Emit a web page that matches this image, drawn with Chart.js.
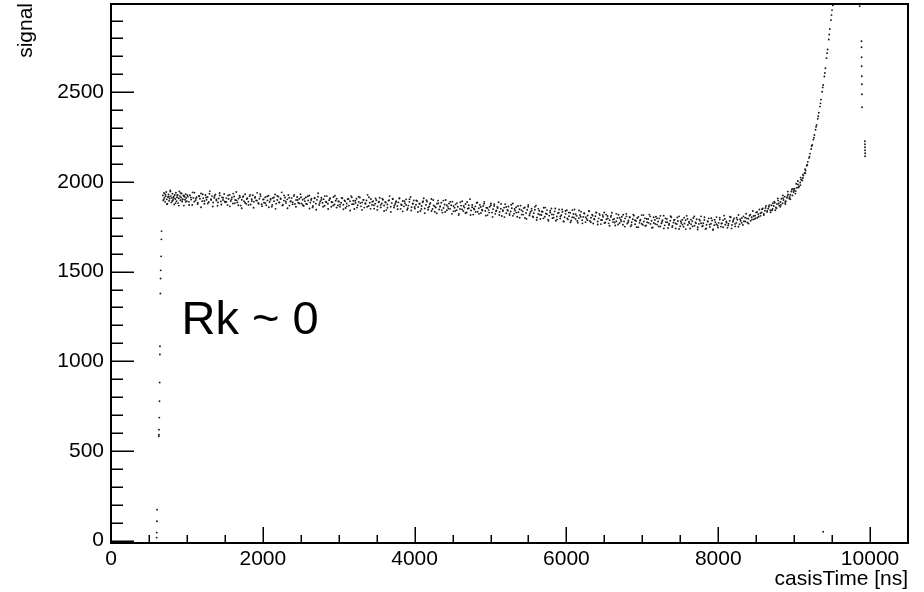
<!DOCTYPE html>
<html>
<head>
<meta charset="utf-8">
<script src="https://cdn.jsdelivr.net/npm/chart.js@4.4.1/dist/chart.umd.min.js"></script>
<style>
  html, body { margin: 0; padding: 0; background: #fff; }
  canvas { display: block; }
</style>
</head>
<body>
<canvas id="c" width="924" height="592"></canvas>
<script>
// Axis ranges and labelled ticks (casisTime in ns, signal in ADC counts)
const timeRange = [0, 10500];
const signalRange = [-13, 2992];
const timeTicks = [0, 2000, 4000, 6000, 8000, 10000];
const signalTicks = [0, 500, 1000, 1500, 2000, 2500];
const annotationText = 'Rk ~ 0';

// Rising edge at the start of the pulse, [time, signal]
const riseEdge = [
    [601, 17], [603, 45], [605, 108], [607, 173], [630, 582], [631, 591], [632, 619],
    [636, 686], [639, 777], [641, 882], [644, 1038], [645, 1084], [650, 1378],
    [653, 1462], [655, 1507], [660, 1585], [664, 1680], [666, 1726]
];

// Plateau of the signal (first pass)
const plateau = [
    [683,1925],[690,1897],[698,1938],[705,1912],[713,1889],[720,1921],[728,1944],[735,1903],[742,1879],[750,1916],
    [758,1930],[765,1895],[773,1908],[780,1952],[788,1921],[795,1886],[803,1911],[810,1934],[818,1899],[825,1918],
    [833,1874],[840,1927],[848,1905],[855,1940],[863,1893],[870,1915],[878,1928],[885,1882],[893,1909],[900,1947],
    [908,1921],[915,1898],[923,1913],[930,1936],[938,1890],[945,1904],[953,1925],[960,1868],[968,1917],[975,1901],
    [983,1931],[990,1911],[998,1893],
    [1012,1918],[1027,1889],[1041,1926],[1056,1902],[1070,1871],[1085,1911],[1099,1940],[1114,1897],[1128,1915],[1143,1884],
    [1157,1922],[1172,1906],[1186,1936],[1201,1893],[1215,1910],[1230,1878],[1244,1927],[1259,1901],[1273,1916],[1288,1888],
    [1302,1949],[1317,1904],[1331,1921],[1346,1885],[1360,1912],[1375,1930],[1389,1896],[1404,1867],[1418,1908],[1433,1925],
    [1447,1891],[1462,1914],[1476,1899],[1491,1933],
    [1506,1887],[1520,1910],[1535,1872],[1549,1905],[1564,1928],[1578,1894],[1593,1913],[1607,1880],[1622,1919],[1636,1899],
    [1651,1944],[1665,1886],[1680,1907],[1694,1923],[1709,1868],[1723,1901],[1738,1916],[1752,1893],[1767,1931],[1781,1878],
    [1796,1909],[1810,1890],[1825,1921],[1839,1874],[1854,1904],[1868,1926],[1883,1889],[1897,1912],[1912,1897],[1926,1939],
    [1941,1883],[1955,1906],[1970,1920],[1984,1876],
    [2003,1902],[2017,1884],[2032,1915],[2046,1870],[2061,1897],[2075,1923],[2090,1888],[2104,1906],[2119,1861],[2133,1911],
    [2148,1893],[2162,1930],[2177,1879],[2191,1899],[2206,1918],[2220,1886],[2235,1908],[2249,1942],[2264,1873],[2278,1896],
    [2293,1913],[2307,1882],[2322,1903],[2336,1927],[2351,1868],[2365,1891],[2380,1910],[2394,1886],[2409,1921],[2423,1877],
    [2438,1899],[2452,1916],[2467,1884],[2481,1906],[2496,1932],
    [2510,1880],[2525,1901],[2539,1866],[2554,1893],[2568,1915],[2583,1876],[2597,1897],[2612,1924],[2626,1885],[2641,1906],
    [2655,1858],[2670,1889],[2684,1911],[2699,1879],[2713,1900],[2728,1937],[2742,1871],[2757,1893],[2771,1912],[2786,1884],
    [2800,1904],[2815,1867],[2829,1890],[2844,1921],[2858,1878],[2873,1898],[2887,1909],[2902,1862],[2916,1887],[2931,1916],
    [2945,1874],[2960,1895],[2974,1906],[2989,1869],
    [3003,1890],[3018,1861],[3032,1884],[3047,1909],[3061,1873],[3076,1897],[3090,1855],[3105,1880],[3119,1904],[3134,1868],
    [3148,1892],[3163,1921],[3177,1876],[3192,1895],[3206,1849],[3221,1883],[3235,1906],[3250,1870],[3264,1889],[3279,1913],
    [3293,1864],[3308,1886],[3322,1900],[3337,1857],[3351,1878],[3366,1897],[3380,1928],[3395,1866],[3409,1884],[3424,1905],
    [3438,1872],[3453,1892],[3467,1851],[3482,1879],
    [3496,1898],[3511,1863],[3525,1887],[3540,1912],[3554,1858],[3569,1880],[3583,1901],[3598,1869],[3612,1889],[3627,1843],
    [3641,1874],[3656,1896],[3670,1921],[3685,1862],[3699,1883],[3714,1904],[3728,1857],[3743,1877],[3757,1893],[3772,1866],
    [3786,1886],[3801,1910],[3815,1850],[3830,1871],[3844,1894],[3859,1864],[3873,1881],[3888,1903],[3902,1845],[3917,1868],
    [3931,1889],[3946,1916],[3960,1859],[3975,1878],[3989,1897],
    [4004,1851],[4018,1873],[4033,1894],[4047,1860],[4062,1880],[4076,1838],[4091,1866],[4105,1887],[4120,1909],[4134,1852],
    [4149,1872],[4163,1891],[4178,1845],[4192,1863],[4207,1883],[4221,1905],[4236,1849],[4250,1869],[4265,1834],[4279,1857],
    [4294,1878],[4308,1896],[4323,1846],[4337,1865],[4352,1884],[4366,1829],[4381,1855],[4395,1874],[4410,1899],[4424,1842],
    [4439,1861],[4453,1880],[4468,1850],[4482,1870],
    [4497,1890],[4511,1836],[4526,1856],[4540,1875],[4555,1843],[4569,1862],[4584,1822],[4598,1849],[4613,1868],[4627,1893],
    [4642,1838],[4656,1857],[4671,1877],[4685,1830],[4700,1851],[4714,1870],[4729,1904],[4743,1841],[4758,1859],[4772,1818],
    [4787,1846],[4801,1864],[4816,1883],[4830,1834],[4845,1853],[4859,1872],[4874,1827],[4888,1845],[4903,1866],[4917,1889],
    [4932,1838],[4946,1856],[4961,1815],[4975,1843],[4990,1862],
    [5004,1880],[5019,1829],[5033,1848],[5048,1866],[5062,1822],[5077,1841],[5091,1860],[5106,1887],[5120,1833],[5135,1851],
    [5149,1810],[5164,1838],[5178,1857],[5193,1876],[5207,1826],[5222,1844],[5236,1863],[5251,1815],[5265,1835],[5280,1853],
    [5294,1880],[5309,1822],[5323,1840],[5338,1859],[5352,1806],[5367,1831],[5381,1848],[5396,1868],[5410,1818],[5425,1836],
    [5439,1854],[5454,1799],[5468,1827],[5483,1845],[5497,1872],
    [5512,1813],[5526,1832],[5541,1851],[5555,1808],[5570,1826],[5584,1845],[5599,1868],[5613,1802],[5628,1821],[5642,1839],
    [5657,1793],[5671,1816],[5686,1834],[5700,1856],[5715,1806],[5729,1824],[5744,1843],[5758,1790],[5773,1812],[5787,1830],
    [5802,1852],[5816,1798],[5831,1818],[5845,1836],[5860,1784],[5874,1807],[5889,1825],[5903,1847],[5918,1796],[5932,1814],
    [5947,1833],[5961,1780],[5976,1803],[5990,1822],
    [6005,1842],[6019,1791],[6034,1809],[6048,1828],[6063,1785],[6077,1803],[6092,1821],[6106,1846],[6121,1793],[6135,1811],
    [6150,1772],[6164,1798],[6179,1816],[6193,1834],[6208,1787],[6222,1805],[6237,1824],[6251,1776],[6266,1795],[6280,1813],
    [6295,1838],[6309,1782],[6324,1800],[6338,1818],[6353,1768],[6367,1791],[6382,1809],[6396,1829],[6411,1779],[6425,1797],
    [6440,1815],[6454,1765],[6469,1788],[6483,1806],
    [6498,1830],[6512,1774],[6527,1792],[6541,1810],[6556,1769],[6570,1787],[6585,1805],[6599,1828],[6614,1776],[6628,1794],
    [6643,1757],[6657,1781],[6672,1799],[6686,1817],[6701,1771],[6715,1789],[6730,1806],[6744,1761],[6759,1780],[6773,1797],
    [6788,1822],[6802,1768],[6817,1785],[6831,1803],[6846,1752],[6860,1775],[6875,1792],[6889,1812],[6904,1764],[6918,1782],
    [6933,1799],[6947,1748],[6962,1772],[6976,1790],
    [6991,1815],[7005,1761],[7020,1779],[7034,1797],[7049,1757],[7063,1775],[7078,1793],[7092,1818],[7107,1766],[7121,1784],
    [7136,1746],[7150,1771],[7165,1788],[7179,1806],[7194,1762],[7208,1779],[7223,1797],[7237,1752],[7252,1770],[7266,1787],
    [7281,1812],[7295,1758],[7310,1776],[7324,1794],[7339,1743],[7353,1767],[7368,1784],[7382,1803],[7397,1755],[7411,1773],
    [7426,1790],[7440,1741],[7455,1765],[7469,1782],[7484,1808],
    [7498,1753],[7513,1771],[7527,1789],[7542,1750],[7556,1768],[7571,1786],[7585,1811],[7600,1760],[7614,1778],[7629,1740],
    [7643,1764],[7658,1781],[7672,1799],[7687,1756],[7701,1774],[7716,1792],[7730,1747],[7745,1766],[7759,1783],[7774,1808],
    [7788,1752],[7803,1770],[7817,1788],[7832,1737],[7846,1761],[7861,1779],[7875,1797],[7890,1749],[7904,1767],[7919,1785],
    [7933,1735],[7948,1759],[7962,1776],[7977,1804],[7991,1757],
    [8006,1772],[8020,1790],[8035,1751],[8049,1769],[8064,1787],[8078,1812],[8093,1761],[8107,1779],[8122,1744],[8136,1767],
    [8151,1784],[8165,1803],[8180,1760],[8194,1778],[8209,1796],[8223,1752],[8238,1772],[8252,1789],[8267,1816],[8281,1764],
    [8296,1782],
    [8310,1799],[8325,1760],[8339,1781],[8354,1801],[8368,1823],[8383,1774],[8397,1795],[8412,1812],[8426,1783],[8441,1803],
    [8455,1838],[8470,1792],[8484,1812],[8499,1829],[8513,1800],[8528,1820],[8542,1846],[8557,1811],[8571,1830],[8586,1852],
    [8600,1821],[8615,1840],[8629,1866],[8644,1833],[8658,1851],[8673,1870],[8687,1842]
];

// Plateau, second pass of hits read between the first ones
const plateauFill = [
    [694,1903],[716,1930],[739,1876],[761,1918],[783,1947],[806,1894],[828,1911],[851,1882],[873,1926],[895,1868],
    [918,1937],[940,1900],[962,1922],[985,1889],
    [1007,1926],[1029,1871],[1052,1914],[1074,1942],[1096,1890],[1119,1906],[1141,1877],[1163,1920],[1186,1859],[1208,1931],
    [1230,1894],[1253,1913],[1275,1880],[1297,1934],[1320,1899],[1342,1863],[1364,1922],[1387,1903],[1409,1886],[1431,1938],
    [1454,1874],[1476,1912],[1498,1891],
    [1521,1889],[1543,1925],[1565,1864],[1588,1903],[1610,1935],[1632,1881],[1655,1897],[1677,1870],[1699,1915],[1722,1853],
    [1744,1921],[1766,1884],[1789,1905],[1811,1872],[1833,1928],[1856,1894],[1878,1856],[1900,1916],[1923,1896],[1945,1878],
    [1967,1931],[1990,1865],
    [2012,1903],[2034,1882],[2057,1919],[2079,1859],[2101,1900],[2124,1871],[2146,1913],[2168,1850],[2191,1922],[2213,1886],
    [2235,1905],[2258,1869],[2280,1925],[2302,1891],[2325,1853],[2347,1912],[2369,1893],[2392,1875],[2414,1928],[2436,1862],
    [2459,1899],[2481,1880],
    [2503,1915],[2526,1871],[2548,1907],[2570,1878],[2593,1920],[2615,1852],[2637,1899],[2660,1866],[2682,1909],[2704,1845],
    [2727,1918],[2749,1882],[2771,1900],[2794,1862],[2816,1921],[2838,1887],[2861,1849],[2883,1906],[2905,1888],[2928,1869],
    [2950,1923],[2972,1857],[2995,1893],
    [3017,1873],[3039,1911],[3062,1848],[3084,1893],[3106,1864],[3129,1905],[3151,1841],[3173,1914],[3196,1876],[3218,1895],
    [3240,1857],[3263,1917],[3285,1882],[3307,1844],[3330,1900],[3352,1881],[3374,1862],[3397,1915],[3419,1850],[3441,1889],
    [3464,1870],[3486,1908],
    [3508,1844],[3531,1890],[3553,1872],[3575,1906],[3598,1838],[3620,1885],[3642,1856],[3665,1898],[3687,1833],[3709,1907],
    [3732,1867],[3754,1887],[3776,1848],[3799,1908],[3821,1874],[3843,1836],[3866,1892],[3888,1872],[3910,1853],[3933,1904],
    [3955,1841],[3977,1880],
    [4000,1860],[4022,1897],[4044,1832],[4067,1877],[4089,1849],[4111,1892],[4134,1826],[4156,1898],[4178,1857],[4201,1877],
    [4223,1838],[4245,1899],[4268,1863],[4290,1825],[4312,1881],[4335,1861],[4357,1843],[4379,1896],[4402,1832],[4424,1870],
    [4446,1851],[4469,1889],[4491,1822],
    [4513,1866],[4536,1838],[4558,1882],[4580,1815],[4603,1887],[4625,1847],[4647,1866],[4670,1827],[4692,1888],[4714,1853],
    [4737,1816],[4759,1871],[4781,1852],[4804,1833],[4826,1885],[4848,1822],[4871,1860],[4893,1841],[4915,1878],[4938,1812],
    [4960,1855],[4982,1829],
    [5005,1870],[5027,1805],[5049,1876],[5072,1836],[5094,1855],[5116,1816],[5139,1877],[5161,1842],[5183,1804],[5206,1860],
    [5228,1840],[5250,1822],[5273,1873],[5295,1811],[5317,1849],[5340,1829],[5362,1866],[5384,1800],[5407,1843],[5429,1818],
    [5451,1858],[5474,1794],[5496,1862],
    [5518,1822],[5541,1840],[5563,1803],[5585,1861],[5608,1788],[5630,1850],[5652,1817],[5675,1835],[5697,1797],[5719,1857],
    [5742,1821],[5764,1783],[5786,1839],[5809,1819],[5831,1801],[5853,1852],[5876,1790],[5898,1828],[5920,1808],[5943,1846],
    [5965,1779],[5987,1838],
    [6010,1797],[6032,1829],[6054,1775],[6077,1843],[6099,1802],[6121,1820],[6144,1782],[6166,1841],[6188,1806],[6211,1769],
    [6233,1825],[6255,1804],[6278,1787],[6300,1836],[6322,1775],[6345,1812],[6367,1794],[6389,1830],[6412,1763],[6434,1822],
    [6456,1788],[6479,1815],
    [6501,1771],[6523,1818],[6546,1796],[6568,1756],[6590,1812],[6613,1790],[6635,1774],[6657,1822],[6680,1763],[6702,1800],
    [6724,1781],[6747,1817],[6769,1751],[6791,1808],[6814,1775],[6836,1803],[6858,1760],[6881,1818],[6903,1786],[6925,1748],
    [6948,1805],[6970,1784],[6992,1767],
    [7015,1815],[7037,1755],[7059,1793],[7082,1772],[7104,1808],[7126,1744],[7149,1803],[7171,1766],[7193,1797],[7216,1752],
    [7238,1811],[7260,1778],[7283,1741],[7305,1797],[7327,1775],[7350,1760],[7372,1809],[7394,1748],[7417,1786],[7439,1768],
    [7461,1802],[7484,1738],
    [7506,1781],[7528,1762],[7551,1801],[7573,1737],[7595,1794],[7618,1771],[7640,1790],[7662,1752],[7685,1808],[7707,1769],
    [7729,1735],[7752,1791],[7774,1770],[7796,1756],[7819,1803],[7841,1741],[7863,1780],[7886,1762],[7908,1798],[7930,1733],
    [7953,1789],[7975,1764],[7997,1746],
    [8020,1801],[8042,1768],[8064,1747],[8087,1794],[8109,1773],[8131,1757],[8154,1806],[8176,1741],[8198,1786],[8221,1766],
    [8243,1800],[8265,1750],[8288,1792],
    [8310,1772],[8332,1808],[8355,1779],[8377,1797],[8399,1768],[8422,1818],[8444,1790],[8466,1810],[8489,1796],[8511,1832],
    [8533,1806],[8556,1825],[8578,1848],[8600,1816],[8623,1855],[8645,1838],[8667,1862],[8690,1831]
];

// Steep rise at the end of the pulse
const tailRise = [
    [8702,1870],[8716,1849],[8731,1866],[8745,1884],[8760,1858],[8774,1877],[8789,1896],[8803,1868],[8818,1888],[8832,1906],
    [8847,1881],[8861,1899],[8876,1918],[8890,1893],[8905,1912],[8919,1930],[8934,1908],[8948,1927],[8963,1947],[8977,1925],
    [8992,1944],[9006,1962],[9021,1949],[9035,1968],[9050,1986],[9064,1975],[9079,1997],[9093,2012],[9108,2008],[9122,2036],
    [9137,2050],[9151,2064],[9166,2090],[9180,2112],[9195,2133],[9209,2158],[9224,2184],[9238,2206],[9253,2236],[9267,2262],
    [9282,2291],[9296,2318],[9311,2352],[9325,2386],[9340,2420],[9354,2459],[9369,2503],[9383,2540],[9398,2588],[9412,2634],
    [9427,2690],[9441,2738],[9456,2794],[9470,2853],[9485,2902],[9499,2958],[9510,2985],
    [8709,1842],[8738,1890],[8767,1853],[8796,1880],[8825,1872],[8854,1910],[8883,1887],[8912,1921],[8941,1915],[8970,1958],
    [8999,1952],[9028,1990],[9057,1969],[9086,2024],[9115,2022],[9144,2071],[9173,2096],[9202,2140],[9231,2200],[9260,2247],
    [9289,2308],[9318,2366],[9347,2438],[9376,2527],[9405,2607],[9434,2718],[9463,2822],[9492,2930],
    [8720,1881],[8752,1842],[8785,1908],[8818,1862],[8851,1925],[8884,1877],[8917,1946],[8950,1904],[8983,1961],[9016,1935],
    [9049,2005],[9082,1982],[9115,2041],[9148,2048]
];

// Late column of hits near 9.9 us and a stray hit near the baseline
const lateHits = [
    [9864,2980],[9887,2784],[9888,2751],[9889,2695],[9890,2645],[9891,2589],[9892,2545],[9893,2489],[9894,2416],
    [9932,2227],[9933,2210],[9933,2193],[9934,2177],[9935,2160],[9935,2143],
    [9382,50]
];

const pointStyle = {
    showLine: false,
    pointRadius: 0.95,
    pointHoverRadius: 0.95,
    pointBorderWidth: 0,
    pointBackgroundColor: '#1a1a1a',
    pointBorderColor: '#1a1a1a'
};

const fontFamily = '"Liberation Sans", Arial, Helvetica, sans-serif';

// ROOT-style frame: box round the plot area, ticks drawn inward, titles and the text label
const rootFrame = {
    id: 'rootFrame',
    afterDraw(chart) {
        const { ctx, chartArea: a, scales: { x, y } } = chart;
        ctx.save();
        ctx.strokeStyle = '#000';
        ctx.lineWidth = 1.5;
        ctx.beginPath();
        for (let v = timeRange[0]; v <= timeRange[1]; v += 500) {
            const px = Math.round(x.getPixelForValue(v)) + 0.25;
            const len = v % 2000 === 0 ? 16 : 8;
            ctx.moveTo(px, a.bottom);
            ctx.lineTo(px, a.bottom - len);
        }
        for (let v = 0; v <= signalRange[1]; v += 100) {
            const py = Math.round(y.getPixelForValue(v)) + 0.25;
            const len = v % 500 === 0 ? 23 : 12;
            ctx.moveTo(a.left, py);
            ctx.lineTo(a.left + len, py);
        }
        ctx.stroke();

        ctx.lineWidth = 2;
        ctx.strokeRect(a.left, a.top, a.right - a.left, a.bottom - a.top);

        ctx.fillStyle = '#000';
        ctx.textBaseline = 'alphabetic';

        ctx.font = '21px ' + fontFamily;
        ctx.textAlign = 'right';
        ctx.fillText('casisTime [ns]', a.right, 585);

        ctx.save();
        ctx.translate(32, 3);
        ctx.rotate(-Math.PI / 2);
        ctx.fillText('signal', 0, 0);
        ctx.restore();

        ctx.font = '47px ' + fontFamily;
        ctx.textAlign = 'left';
        ctx.fillText(annotationText, x.getPixelForValue(930), y.getPixelForValue(1150));
        ctx.restore();
    }
};

const datasets = [riseEdge, plateau, plateauFill, tailRise, lateHits].map((d, i) => ({
    label: 'hits' + i,
    data: d,
    ...pointStyle
}));

new Chart(document.getElementById('c'), {
    type: 'scatter',
    data: { datasets },
    options: {
        responsive: false,
        animation: false,
        devicePixelRatio: 1,
        layout: { padding: { left: 0, top: 4, right: 16, bottom: 0 } },
        plugins: {
            legend: { display: false },
            tooltip: { enabled: false }
        },
        scales: {
            x: {
                type: 'linear',
                min: timeRange[0],
                max: timeRange[1],
                grid: { display: false, drawTicks: false },
                border: { display: false },
                afterBuildTicks: s => { s.ticks = timeTicks.map(v => ({ value: v })); },
                afterFit: s => { s.height = 49; s.paddingLeft = 0; s.paddingRight = 0; },
                ticks: {
                    autoSkip: false,
                    maxRotation: 0,
                    padding: 4,
                    color: '#000',
                    font: { family: fontFamily, size: 21 },
                    callback: v => String(v)
                }
            },
            y: {
                type: 'linear',
                min: signalRange[0],
                max: signalRange[1],
                grid: { display: false, drawTicks: false },
                border: { display: false },
                afterBuildTicks: s => { s.ticks = signalTicks.map(v => ({ value: v })); },
                afterFit: s => { s.width = 111; s.paddingTop = 0; s.paddingBottom = 0; },
                ticks: {
                    autoSkip: false,
                    padding: 7,
                    color: '#000',
                    font: { family: fontFamily, size: 21 },
                    callback: v => String(v)
                }
            }
        }
    },
    plugins: [rootFrame]
});
</script>
</body>
</html>
